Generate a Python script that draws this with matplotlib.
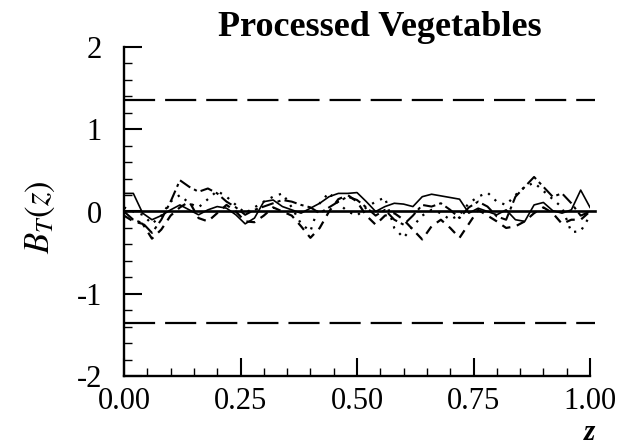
import numpy as np
import matplotlib.pyplot as plt
from matplotlib.ticker import MultipleLocator

plt.rcParams['font.family'] = ['Liberation Serif', 'DejaVu Serif']
plt.rcParams['mathtext.fontset'] = 'stix'

# grid of z values shared by all estimated bridge paths
z = np.linspace(0, 1, 51)

solid = [0.22, 0.22, -0.02, -0.10, -0.05, 0.02, 0.08, 0.02, -0.04, 0.02,
         0.06, 0.04, -0.04, -0.15, -0.08, 0.12, 0.14, 0.06, 0.02, -0.02,
         0.04, 0.10, 0.18, 0.22, 0.22, 0.23, 0.12, 0.00, 0.06, 0.10,
         0.09, 0.06, 0.18, 0.21, 0.19, 0.17, 0.15, -0.02, 0.04, 0.00,
         -0.04, 0.02, -0.10, -0.12, 0.08, 0.11, 0.01, -0.02, 0.02, 0.26,
         0.05]
dashdot = [0.00, -0.10, -0.14, -0.26, -0.10, 0.12, 0.38, 0.30, 0.24, 0.28,
           0.22, 0.12, 0.05, -0.04, 0.02, 0.06, 0.10, 0.14, 0.12, 0.08,
           0.05, -0.02, 0.05, 0.12, 0.18, 0.14, 0.05, -0.05, 0.02, -0.10,
           -0.16, -0.05, 0.08, 0.06, 0.10, 0.02, -0.08, 0.05, 0.12, 0.06,
           -0.06, -0.10, 0.18, 0.30, 0.42, 0.30, 0.18, 0.22, 0.10, -0.05,
           0.00]
dotted = [0.05, 0.00, -0.04, -0.15, -0.05, 0.12, 0.20, 0.10, 0.05, 0.15,
          0.25, 0.18, 0.08, -0.02, 0.05, 0.12, 0.18, 0.22, 0.05, -0.15,
          -0.24, 0.10, 0.23, 0.10, 0.00, -0.05, 0.05, 0.12, 0.17, -0.20,
          -0.32, -0.18, -0.05, 0.02, -0.02, -0.10, -0.04, 0.10, 0.18, 0.23,
          0.12, 0.08, 0.20, 0.30, 0.35, 0.25, 0.15, 0.05, -0.25, -0.24,
          -0.05]
dashed = [-0.05, -0.12, -0.15, -0.33, -0.22, -0.05, 0.05, 0.12, -0.08, -0.12,
          -0.02, 0.08, 0.00, -0.12, -0.13, -0.05, 0.05, 0.00, -0.05, -0.18,
          -0.32, -0.20, 0.00, 0.15, 0.20, 0.12, -0.05, -0.16, -0.05, -0.02,
          -0.10, -0.22, -0.34, -0.18, -0.10, -0.20, -0.32, -0.15, 0.02, -0.05,
          -0.12, -0.20, -0.18, -0.12, -0.02, 0.05, -0.02, -0.15, -0.10, -0.10,
          0.00]

crit = 1.358
xticks = [0.0, 0.25, 0.5, 0.75, 1.0]
xtick_labels = ['0.00', '0.25', '0.50', '0.75', '1.00']
yticks = [-2, -1, 0, 1, 2]
ytick_labels = ['-2', '-1', '0', '1', '2']

fig = plt.figure(figsize=(6.3, 4.48), dpi=100)
ax = fig.add_axes([124 / 630, 1 - 376 / 448, (590 - 124) / 630, (376 - 47) / 448])

ax.plot(z, solid, color='black', lw=1.2, ls='-')
ax.plot(z, dashdot, color='black', lw=1.5, ls=(0, (6, 2, 1.5, 2)))
ax.plot(z, dotted, color='black', lw=1.6, ls=(0, (1, 3)))
ax.plot(z, dashed, color='black', lw=1.6, ls=(0, (4, 3)))

# zero line and critical bounds
ax.plot([0, 1.01], [0, 0], color='black', lw=1.9, clip_on=False)
ax.plot([0, 1.01], [crit, crit], color='black', lw=1.6, ls=(0, (14, 4.5)), clip_on=False)
ax.plot([0, 1.01], [-crit, -crit], color='black', lw=1.6, ls=(0, (14, 4.5)), clip_on=False)

ax.set_xlim(0, 1)
ax.set_ylim(-2, 2)
ax.set_xticks(xticks)
ax.set_xticklabels(xtick_labels)
ax.set_yticks(yticks)
ax.set_yticklabels(ytick_labels)
ax.xaxis.set_minor_locator(MultipleLocator(0.05))
ax.yaxis.set_minor_locator(MultipleLocator(0.2))

ax.tick_params(which='major', direction='in', length=13, width=1.5, labelsize=22)
ax.tick_params(which='minor', direction='in', length=6, width=1.0)
ax.tick_params(axis='y', which='major', pad=16)
ax.tick_params(axis='x', which='major', pad=8)
ax.tick_params(top=False, right=False, which='both')

for side in ['top', 'right']:
    ax.spines[side].set_visible(False)
for side in ['left', 'bottom']:
    ax.spines[side].set_linewidth(1.7)

fig.text(380 / 630, 1 - 28 / 448, 'Processed Vegetables', ha='center', va='center',
         fontsize=26, fontweight='bold')
fig.text(40 / 630, 1 - 217 / 448, r'$B_T(z)$', rotation=90, ha='center', va='center',
         fontsize=25)
fig.text(590 / 630, 1 - 432 / 448, 'z', ha='center', va='center', fontsize=21,
         style='italic', fontweight='bold')

fig.savefig('out.png', dpi=100)
